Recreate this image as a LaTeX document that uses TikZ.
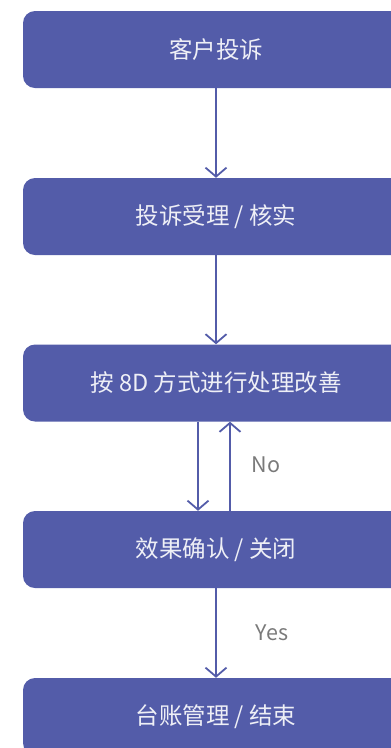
\documentclass[tikz,border=0pt]{standalone}
\usepackage{fontspec}
\setmainfont{Noto Sans CJK SC}
\usepackage{tikz}
\usepackage{xcolor}
\usetikzlibrary{positioning, arrows.meta}

\definecolor{boxblue}{HTML}{535CA9}
\definecolor{labelgray}{HTML}{7A7A7A}

\begin{document}
\begin{tikzpicture}[x=1pt,y=1pt,
    stepbox/.style={rectangle,rounded corners=12pt,fill=boxblue,text=white!90!boxblue,
        minimum width=386pt,minimum height=77pt,inner sep=0pt,font=\fontsize{23.5}{28}\selectfont},
    flow/.style={boxblue,line width=1.8pt,-{Straight Barb[length=9pt,width=21pt,line width=1.8pt]}},
    tag/.style={text=labelgray,font=\fontsize{21.5}{25}\selectfont}]
        \clip (0,0) rectangle (391,-748);
        \node[stepbox] (s1) at (216,-49.5) {客户投诉};
        \node[stepbox] (s2) at (216,-216.5) {投诉受理 / 核实};
        \node[stepbox] (s3) at (216,-383) {按 8D 方式进行处理改善};
        \node[stepbox] (s4) at (216,-549.5) {效果确认 / 关闭};
        \node[stepbox] (s5) at (216,-716.5) {台账管理 / 结束};
        \draw[flow] (s1) -- (s2);
        \draw[flow] (s2) -- (s3);
        \draw[flow] ([xshift=-18pt]s3.south) -- ([xshift=-18pt]s4.north);
        \draw[flow] ([xshift=14pt]s4.north) -- ([xshift=14pt]s3.south);
        \draw[flow] (s4) -- (s5);
        \node[tag] (no) at (266,-465) {No};
        \node[tag] (yes) at (272,-633) {Yes};
    \end{tikzpicture}
\end{document}
